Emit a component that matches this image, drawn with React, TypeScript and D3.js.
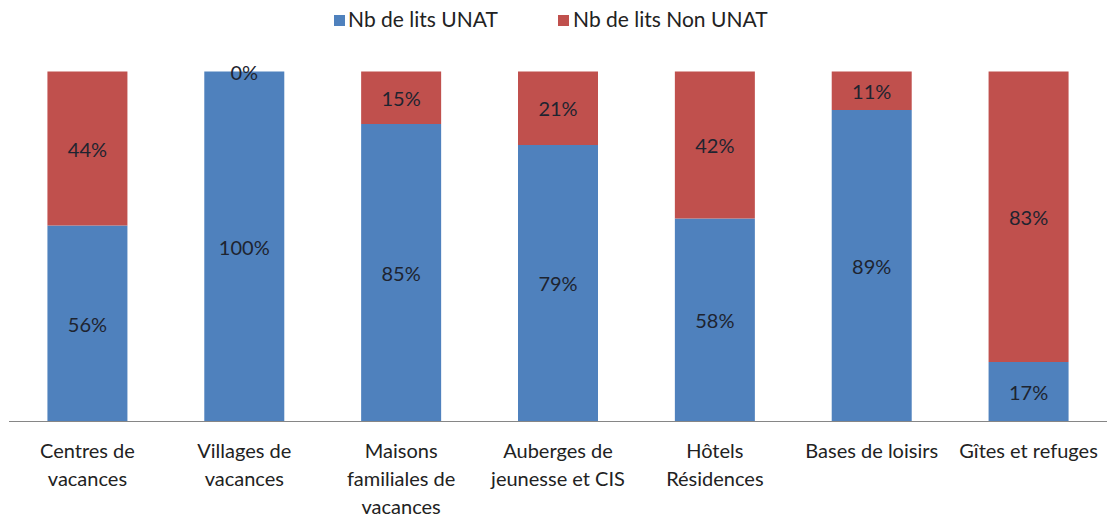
import React from "react";
import * as d3 from "d3";

const categories = [
  "Centres de\nvacances",
  "Villages de\nvacances",
  "Maisons\nfamiliales de\nvacances",
  "Auberges de\njeunesse et CIS",
  "Hôtels\nRésidences",
  "Bases de loisirs",
  "Gîtes et refuges",
];
const unat = [56, 100, 85, 79, 58, 89, 17];
const nonUnat = [44, 0, 15, 21, 42, 11, 83];
const seriesNames = ["Nb de lits UNAT", "Nb de lits Non UNAT"];
const colors = ["#4F81BD", "#C0504D"];

const W = 1107;
const H = 517;
const FONT = "Lato, 'Open Sans', sans-serif";

export default function App() {
  const x = d3
    .scaleBand()
    .domain(categories)
    .range([9, W])
    .paddingInner(0.49)
    .paddingOuter(0.245);
  const y = d3.scaleLinear().domain([0, 100]).range([421.5, 71.5]);

  const rows = categories.map((c, i) => ({ cat: c, unat: unat[i], nonUnat: nonUnat[i] }));
  const stacked = d3.stack<any>().keys(["unat", "nonUnat"])(rows);

  return (
    <div style={{ position: "fixed", left: 0, top: 0 }}>
      <svg width={W} height={H} style={{ display: "block", background: "#fff" }} fontFamily={FONT}>
        {/* legend */}
        <g>
          <rect x={334} y={15} width={11} height={11} fill={colors[0]} />
          <text x={348} y={27} fontSize={21} fill="#222">{seriesNames[0]}</text>
          <rect x={558} y={15} width={11} height={11} fill={colors[1]} />
          <text x={573} y={27} fontSize={21} fill="#222">{seriesNames[1]}</text>
        </g>

        {stacked.map((s, si) => (
          <g key={s.key}>
            {s.map((d, i) => (
              <rect
                key={i}
                x={x(categories[i])}
                y={y(d[1])}
                width={x.bandwidth()}
                height={y(d[0]) - y(d[1])}
                fill={colors[si]}
              />
            ))}
          </g>
        ))}

        {stacked.map((s) => (
          <g key={s.key + "lbl"}>
            {s.map((d, i) => (
              <text
                key={i}
                x={(x(categories[i]) ?? 0) + x.bandwidth() / 2}
                y={(y(d[0]) + y(d[1])) / 2 + 1}
                dy="0.35em"
                textAnchor="middle"
                fontSize={20}
                fill="#1e2430"
              >
                {d[1] - d[0]}%
              </text>
            ))}
          </g>
        ))}

        <line x1={9} x2={W} y1={421.5} y2={421.5} stroke="#868686" strokeWidth={1.2} />

        {categories.map((c, i) => (
          <text
            key={i}
            x={(x(c) ?? 0) + x.bandwidth() / 2}
            y={458}
            textAnchor="middle"
            fontSize={20}
            fill="#222"
          >
            {c.split("\n").map((line, li) => (
              <tspan key={li} x={(x(c) ?? 0) + x.bandwidth() / 2} dy={li === 0 ? 0 : 28}>
                {line}
              </tspan>
            ))}
          </text>
        ))}
      </svg>
    </div>
  );
}
